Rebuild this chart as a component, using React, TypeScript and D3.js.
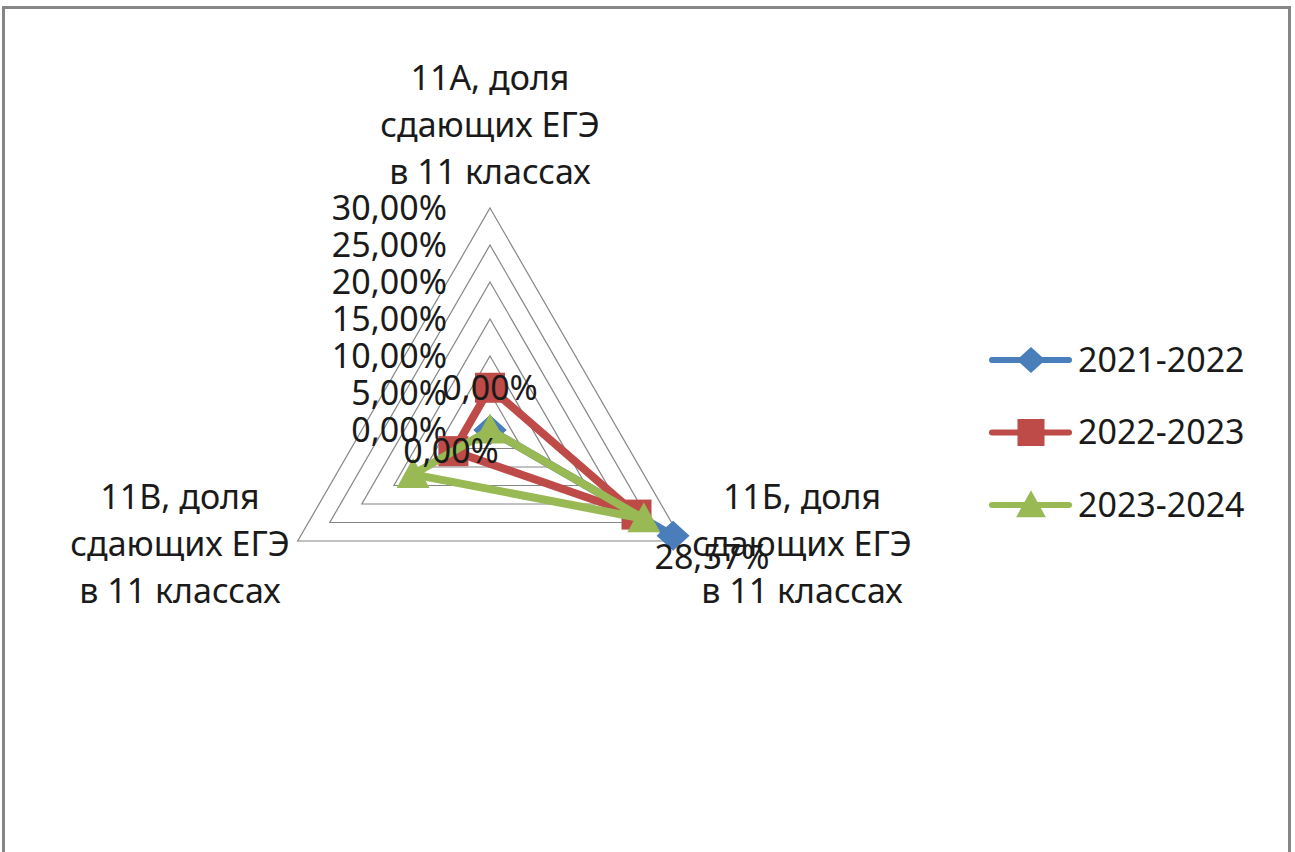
import React from "react";
import * as d3 from "d3";

const categories = ["11А, доля сдающих ЕГЭ в 11 классах", "11Б, доля сдающих ЕГЭ в 11 классах", "11В, доля сдающих ЕГЭ в 11 классах"];
const categoryLines = [
  ["11А, доля", "сдающих ЕГЭ", "в 11 классах"],
  ["11Б, доля", "сдающих ЕГЭ", "в 11 классах"],
  ["11В, доля", "сдающих ЕГЭ", "в 11 классах"],
];
const seriesNames = ["2021-2022", "2022-2023", "2023-2024"];
const values2021 = [0, 28.57, 0];
const values2022 = [5.71, 22.86, 5.71];
const values2023 = [0, 24.0, 12.0];
const ticks = [0, 5, 10, 15, 20, 25, 30];
const colors = ["#4a7ebb", "#be4b48", "#98b954"];
const markers = ["diamond", "square", "triangle"];

const FONT = "'Noto Sans', 'DejaVu Sans', sans-serif";

function fmt(v: number) {
  return v.toFixed(2).replace(".", ",") + "%";
}

function Marker({ type, x, y, color, s }: { type: string; x: number; y: number; color: string; s: number }) {
  if (type === "diamond") {
    const w = s * 0.55, h = s * 0.5;
    return <path d={`M${x},${y - h}L${x + w},${y}L${x},${y + h}L${x - w},${y}Z`} fill={color} />;
  }
  if (type === "square") {
    return <rect x={x - s / 2} y={y - s / 2} width={s} height={s} fill={color} />;
  }
  const h = s;
  return <path d={`M${x},${y - h * 0.55}L${x + s * 0.55},${y + h * 0.45}L${x - s * 0.55},${y + h * 0.45}Z`} fill={color} />;
}

export default function App() {
  const W = 1295, H = 852;
  const cx = 490, cy = 430;
  const r = d3.scaleLinear().domain([0, 30]).range([0, 222]);
  const angle = (i: number) => (i * 2 * Math.PI) / categories.length;
  const pt = (i: number, v: number) => {
    const a = angle(i);
    return [cx + r(v) * Math.sin(a), cy - r(v) * Math.cos(a)];
  };
  const series = [values2021, values2022, values2023];
  const radial = d3
    .lineRadial<number>()
    .angle((_, i) => angle(i))
    .radius((d) => r(d))
    .curve(d3.curveLinearClosed);

  const catPos = [
    [490, 78],
    [802, 497],
    [180, 497],
  ];

  return (
    <svg width={W} height={H} style={{ position: "absolute", left: 0, top: 0, background: "#fff" }} fontFamily={FONT}>
      <rect x={0} y={0} width={W} height={H} fill="#fff" />
      <path d={`M3.5,${H + 5}L3.5,7.5L1289.5,7.5L1289.5,${H + 5}`} fill="none" stroke="#868686" stroke-width="3" />
      {/* grid */}
      {ticks.slice(1).map((t) => (
        <path
          key={t}
          d={d3.range(3).map((i) => (i === 0 ? "M" : "L") + pt(i, t).join(",")).join("") + "Z"}
          fill="none"
          stroke="#868686"
          strokeWidth={1.2}
        />
      ))}
      {/* tick labels */}
      {ticks.map((t) => (
        <text key={t} x={447} y={cy - r(t)} dy="0.35em" textAnchor="end" fontSize={34} fill="#1a1a1a">
          {fmt(t)}
        </text>
      ))}
      {/* category labels */}
      {categoryLines.map((lines, i) => (
        <text key={i} textAnchor="middle" fontSize={34} fill="#1a1a1a">
          {lines.map((l, j) => (
            <tspan key={j} x={catPos[i][0]} y={catPos[i][1] + j * 47} dy="0.35em">
              {l}
            </tspan>
          ))}
        </text>
      ))}
      {/* series */}
      {series.map((vals, s) => (
        <g key={s}>
          <path
            d={radial(vals) || ""}
            transform={`translate(${cx},${cy})`}
            fill="none"
            stroke={colors[s]}
            strokeWidth={8}
            strokeLinejoin="round"
          />
          {vals.map((v, i) => {
            const [x, y] = pt(i, v);
            return <Marker key={i} type={markers[s]} x={x} y={y} color={colors[s]} s={s === 0 ? 30 : 30} />;
          })}
        </g>
      ))}
      {/* data labels for first series */}
      {values2021.map((v, i) => {
        const [x, y] = pt(i, v);
        const a = angle(i);
        const lx = x + 45 * Math.sin(a);
        const ly = y - 42 * Math.cos(a);
        return (
          <text key={i} x={lx} y={ly} dy="0.35em" textAnchor="middle" fontSize={34} fill="#1a1a1a">
            {fmt(v)}
          </text>
        );
      })}
      {/* legend */}
      {seriesNames.map((n, s) => {
        const y = 360 + s * 72.5;
        return (
          <g key={n}>
            <line x1={992} x2={1069} y1={y} y2={y} stroke={colors[s]} strokeWidth={6} strokeLinecap="round" />
            <Marker type={markers[s]} x={1031} y={y} color={colors[s]} s={s === 0 ? 26 : 27} />
            <text x={1078} y={y} dy="0.35em" fontSize={34} fill="#1a1a1a">
              {n}
            </text>
          </g>
        );
      })}
    </svg>
  );
}
